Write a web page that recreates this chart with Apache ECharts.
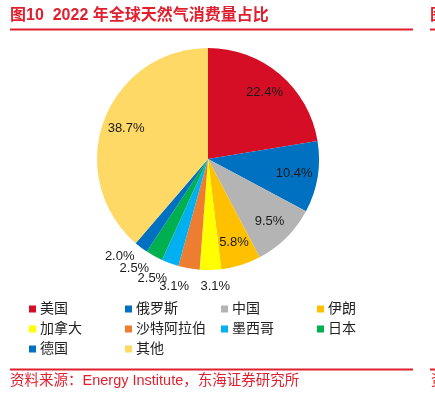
<!DOCTYPE html>
<html><head><meta charset="utf-8">
<script src="https://cdn.jsdelivr.net/npm/echarts@6/dist/echarts.min.js"></script>
<style>html,body{margin:0;padding:0;background:#fff;}#c{width:435px;height:396px;}</style>
</head><body><div id="c"></div>
<script>
const categories = ['美国','俄罗斯','中国','伊朗','加拿大','沙特阿拉伯','墨西哥','日本','德国','其他'];
const shares = [22.4, 10.4, 9.5, 5.8, 3.1, 3.1, 2.5, 2.5, 2.0, 38.7];
const colors = ['#D50E26','#0070C0','#B4B4B4','#FFC000','#FFFF00','#ED7D31','#00B0F0','#00B050','#0070C0','#FFD966'];
// label placement group: 'in' = inside slice, 'outA' / 'outB' = outside rings
const labelGroup = ['in','in','in','in','outA','outB','outB','outB','outB','in'];

const FONT = '"Liberation Sans", "Noto Sans CJK SC", sans-serif';
const RED = '#E0202F';
const cx = 208, cy = 159, R = 111;

const chart = echarts.init(document.getElementById('c'), null, {renderer:'canvas'});
const fmt = p => p.value.toFixed(1) + '%';
const baseData = categories.map((n,i)=>({name:n, value:shares[i], itemStyle:{color:colors[i]}}));
const groupData = g => categories.map((n,i)=>({name:n, value:shares[i], label:{show:labelGroup[i]===g}}));
const labelStyle = {position:'inside', formatter: fmt, fontFamily:FONT, fontSize:13, color:'#1a1a1a'};
const labelSeries = (g, radius, startAngle) => ({
  type:'pie', center:[cx,cy], radius, startAngle, clockwise:true,
  avoidLabelOverlap:false, silent:true, legendHoverLink:false,
  data: groupData(g), labelLine:{show:false},
  labelLayout:{hideOverlap:false},
  itemStyle:{color:'rgba(0,0,0,0)', borderWidth:0},
  label: labelStyle
});

chart.setOption({
  animation:false,
  color: colors,
  graphic:[
    {type:'text', left:10, top:8, style:{text:'图10  2022 年全球天然气消费量占比', fill:RED, font:'bold 16px '+FONT}},
    {type:'rect', shape:{x:10, y:28.5, width:403, height:2}, style:{fill:RED}},
    {type:'text', left:430, top:8, style:{text:'图', fill:RED, font:'bold 16px '+FONT}},
    {type:'rect', shape:{x:430, y:28.5, width:10, height:2}, style:{fill:RED}},
    {type:'rect', shape:{x:10, y:368.5, width:403, height:2}, style:{fill:RED}},
    {type:'rect', shape:{x:430, y:368.5, width:10, height:2}, style:{fill:RED}},
    {type:'text', left:10, top:374, style:{text:'资料来源：Energy Institute，东海证券研究所', fill:RED, font:'14.5px '+FONT}},
    {type:'text', left:431, top:374, style:{text:'资', fill:RED, font:'14.5px '+FONT}}
  ],
  legend:{
    left:24, top:294, width:400,
    itemWidth:7, itemHeight:7, itemGap:0,
    icon:'rect',
    data: categories,
    textStyle:{fontFamily:FONT, fontSize:14, color:'#222', width:85, height:20, lineHeight:20, padding:[0,0,0,-1]}
  },
  series:[
    {
      type:'pie', center:[cx,cy], radius:[0,R], startAngle:90, clockwise:true,
      data: baseData, label:{show:false}, labelLine:{show:false},
      itemStyle:{borderWidth:0}, silent:true
    },
    labelSeries('in', [R*0.52, R], 90),
    labelSeries('outA', [R*1.02, R*1.22], 92),
    labelSeries('outB', [R*1.05, R*1.27], 85)
  ]
});
</script></body></html>
